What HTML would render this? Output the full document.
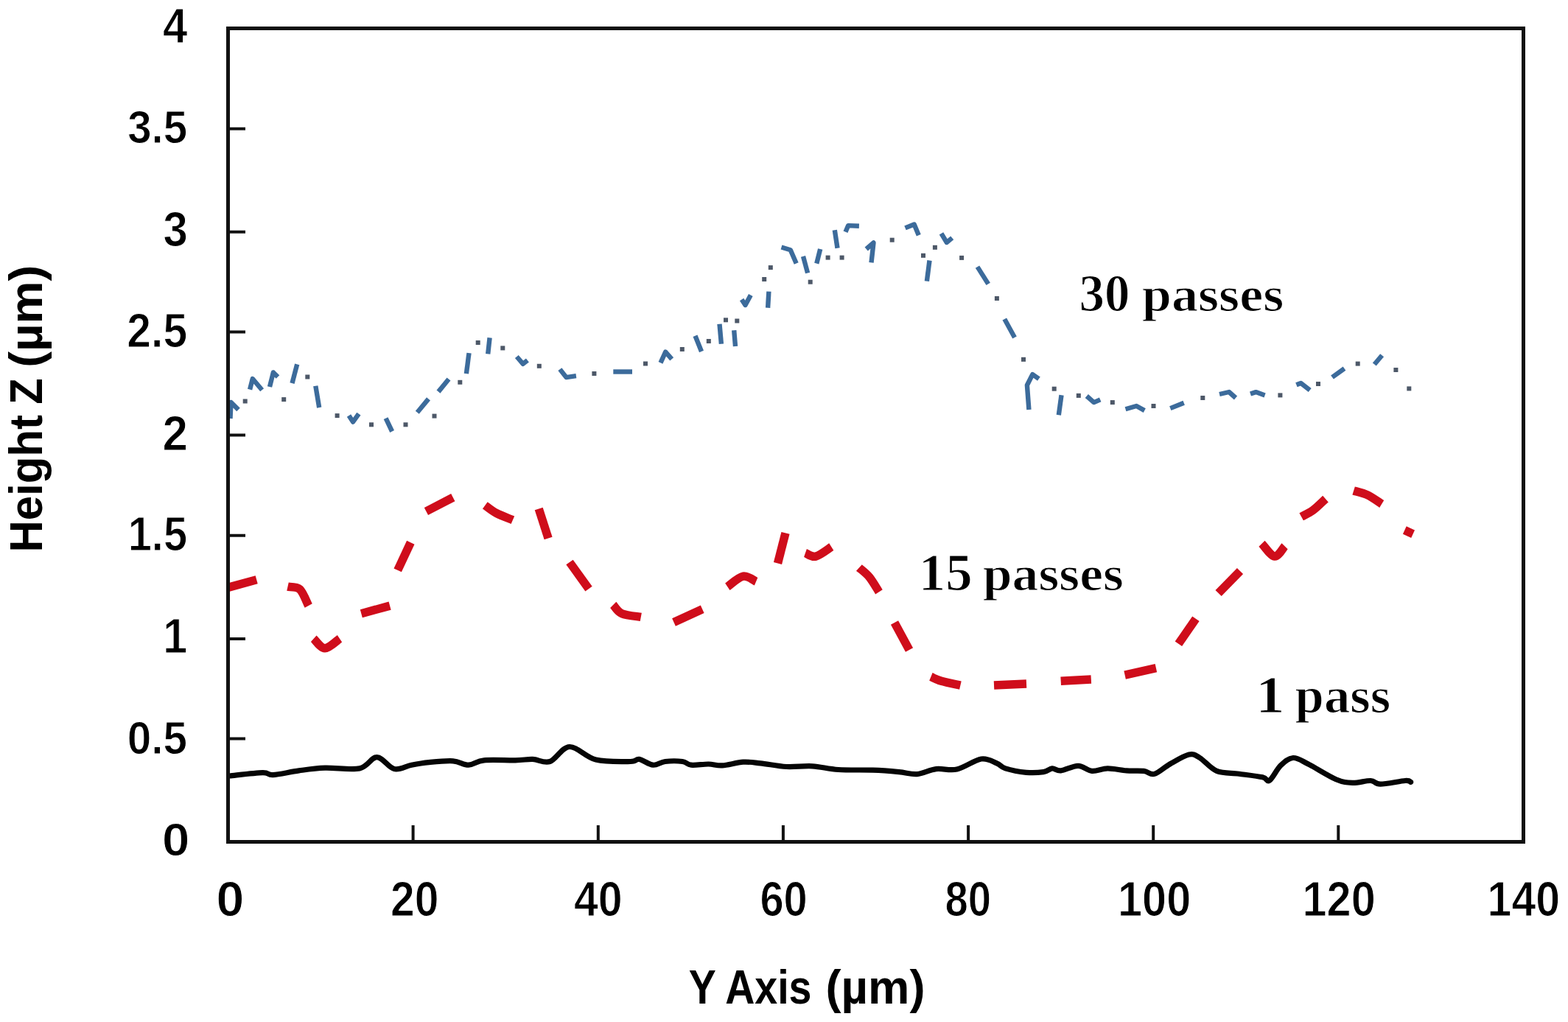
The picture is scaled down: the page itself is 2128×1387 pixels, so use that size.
<!DOCTYPE html><html><head><meta charset="utf-8"><title>Height profile</title><style>html,body{margin:0;padding:0;background:#fff;}svg{display:block;}</style></head><body>
<svg width="2128" height="1387" viewBox="0 0 2128 1387">
<rect width="2128" height="1387" fill="#fff"/>
<g fill="none" stroke-linejoin="round">
<path d="M311.7,1053 C319.1,1052.3 346.6,1048.9 356.4,1048.7 C366.2,1048.5 362.3,1052.1 370.5,1051.6 C378.7,1051.1 393.9,1047.5 405.7,1045.9 C417.4,1044.3 427.3,1042.7 441,1042.2 C454.7,1041.7 476.2,1045.3 488,1042.9 C499.8,1040.5 503.7,1027.5 511.5,1027.6 C519.3,1027.7 527.2,1041.8 535,1043.6 C542.8,1045.4 550.7,1039.7 558.5,1038.2 C566.3,1036.7 572.6,1035.5 582,1034.6 C591.4,1033.7 605.8,1032.2 614.8,1032.8 C623.8,1033.4 629,1038.4 636,1038.2 C643,1038 646.4,1032.9 657,1031.8 C667.6,1030.7 688.4,1032 699.4,1031.8 C710.4,1031.6 715.2,1030.1 723,1030.4 C730.8,1030.7 738.1,1036.3 746.4,1033.5 C754.7,1030.7 762.6,1013.9 773,1013.5 C783.4,1013.1 794.9,1027.8 808.7,1031.1 C822.5,1034.4 845.9,1033.6 855.7,1033.5 C865.5,1033.4 862.4,1029.6 867.5,1030.4 C872.6,1031.2 880.4,1037.7 886.3,1038.2 C892.2,1038.7 896.1,1034.3 902.7,1033.5 C909.4,1032.7 920.3,1032.7 926.2,1033.5 C932.1,1034.3 932.1,1037.6 938,1038.2 C943.9,1038.8 954.5,1036.9 961.5,1037 C968.5,1037.1 972.5,1039.4 980.3,1038.9 C988.1,1038.4 999.9,1034.7 1008.5,1034.2 C1017.1,1033.7 1022.2,1034.8 1032,1035.8 C1041.8,1036.8 1055.5,1039.8 1067.2,1040.5 C1078.9,1041.2 1090.7,1039.1 1102.4,1039.8 C1114.2,1040.5 1124,1043.6 1137.7,1044.5 C1151.4,1045.4 1171,1044.7 1184.7,1045.2 C1198.4,1045.7 1209.9,1046.7 1219.9,1047.6 C1229.9,1048.5 1236.2,1051.3 1244.6,1050.6 C1253,1049.9 1261.5,1044.7 1270.5,1043.6 C1279.5,1042.5 1288.5,1046.3 1298.7,1044 C1308.9,1041.7 1322.6,1031.4 1331.6,1030 C1340.6,1028.6 1347.2,1033.6 1352.7,1035.8 C1358.2,1038 1357.8,1040.8 1364.5,1042.9 C1371.2,1045 1384.1,1047.5 1392.7,1048.3 C1401.3,1049.1 1410.3,1048.5 1416.2,1047.6 C1422.1,1046.7 1424,1043.2 1427.9,1042.9 C1431.8,1042.6 1433.8,1046.5 1439.7,1045.9 C1445.6,1045.3 1456.2,1039.2 1463.2,1039.3 C1470.2,1039.4 1475.3,1045.8 1482,1046.4 C1488.7,1047 1495.3,1043 1503.1,1042.9 C1510.9,1042.8 1520.8,1045.3 1529,1045.9 C1537.2,1046.5 1546.1,1045.7 1552.4,1046.4 C1558.7,1047.2 1560.8,1052 1566.7,1050.4 C1572.6,1048.8 1579.9,1041.4 1587.7,1037 C1595.5,1032.6 1606.9,1025.4 1613.7,1024 C1620.5,1022.6 1622,1024.8 1628.3,1028.5 C1634.6,1032.2 1642.4,1042.8 1651.3,1046.4 C1660.2,1050 1671.2,1048.8 1681.6,1050.2 C1692,1051.6 1706.6,1053.3 1713.5,1054.8 C1720.4,1056.3 1718.8,1061.8 1722.9,1059.2 C1727,1056.6 1732.7,1044 1738,1038.9 C1743.3,1033.8 1748.6,1028.8 1754.9,1028.5 C1761.2,1028.2 1765.9,1032.1 1775.6,1037 C1785.3,1041.9 1803.2,1053.5 1813.2,1057.7 C1823.2,1061.9 1827.9,1062.1 1835.7,1062.4 C1843.5,1062.7 1853.9,1059.2 1860.2,1059.5 C1866.5,1059.8 1865.5,1064.2 1873.3,1064.2 C1881.1,1064.2 1900.2,1060 1907.1,1059.5 C1914,1059 1913.4,1061.1 1914.7,1061.4" stroke="#050505" stroke-width="7.2" stroke-linecap="round"/>
<path d="M309.4,797.4 L348.2,786.8" stroke="#cf0d1b" stroke-width="11.5" stroke-linecap="butt"/>
<path d="M390.5,796.2 C393.2,796.8 402.2,795.5 406.9,799.8 C411.6,804.1 416.7,818.4 418.7,822.1" stroke="#cf0d1b" stroke-width="11.5" stroke-linecap="butt"/>
<path d="M425.7,866.7 C428.2,868.9 435.1,879.7 441,879.7 C446.9,879.7 457.7,868.9 461,866.7" stroke="#cf0d1b" stroke-width="11.5" stroke-linecap="butt"/>
<path d="M490.3,832.7 L529.1,822.1" stroke="#cf0d1b" stroke-width="11.5" stroke-linecap="butt"/>
<path d="M539.7,773.9 L557.3,736.3" stroke="#cf0d1b" stroke-width="11.5" stroke-linecap="butt"/>
<path d="M578.4,694 L614.8,675.2" stroke="#cf0d1b" stroke-width="11.5" stroke-linecap="butt"/>
<path d="M658.3,685.8 C660.8,687.6 667.3,693.1 673.6,696.4 C679.9,699.7 692.2,704.2 695.9,705.8" stroke="#cf0d1b" stroke-width="11.5" stroke-linecap="butt"/>
<path d="M731.2,690.5 L744.1,730.5" stroke="#cf0d1b" stroke-width="11.5" stroke-linecap="butt"/>
<path d="M773,763 L799,799.2" stroke="#cf0d1b" stroke-width="11.5" stroke-linecap="butt"/>
<path d="M832.2,820.9 C834.2,822.9 837.7,830 844,832.7 C850.3,835.5 865.5,836.6 869.8,837.4" stroke="#cf0d1b" stroke-width="11.5" stroke-linecap="butt"/>
<path d="M914.5,844.4 L953.2,826.8" stroke="#cf0d1b" stroke-width="11.5" stroke-linecap="butt"/>
<path d="M987.3,796.2 C990.8,793.9 1002,783.4 1008.5,782.2 C1015,781 1023.2,788 1026.1,789.2" stroke="#cf0d1b" stroke-width="11.5" stroke-linecap="butt"/>
<path d="M1055.5,764.5 L1066,723.4" stroke="#cf0d1b" stroke-width="11.5" stroke-linecap="butt"/>
<path d="M1093,750.4 C1095.3,751.2 1101.2,756.5 1107.1,755.1 C1113,753.7 1124.8,744.4 1128.3,742.2" stroke="#cf0d1b" stroke-width="11.5" stroke-linecap="butt"/>
<path d="M1165.9,770.4 C1168.2,772.5 1175.5,777.8 1180,783.3 C1184.5,788.8 1190.8,800 1192.9,803.3" stroke="#cf0d1b" stroke-width="11.5" stroke-linecap="butt"/>
<path d="M1214,845 L1234,882" stroke="#cf0d1b" stroke-width="11.5" stroke-linecap="butt"/>
<path d="M1263.4,918.4 C1265.8,919.4 1270.8,922.3 1277.5,924.3 C1284.2,926.3 1299.1,929.2 1303.4,930.2" stroke="#cf0d1b" stroke-width="11.5" stroke-linecap="butt"/>
<path d="M1349,930 L1393,928" stroke="#cf0d1b" stroke-width="11.5" stroke-linecap="butt"/>
<path d="M1439.7,924.3 L1480.8,922" stroke="#cf0d1b" stroke-width="11.5" stroke-linecap="butt"/>
<path d="M1526.6,916.1 L1568.9,906.7" stroke="#cf0d1b" stroke-width="11.5" stroke-linecap="butt"/>
<path d="M1599.4,873.8 L1622.9,839.7" stroke="#cf0d1b" stroke-width="11.5" stroke-linecap="butt"/>
<path d="M1653.6,805 L1683,775" stroke="#cf0d1b" stroke-width="11.5" stroke-linecap="butt"/>
<path d="M1712.5,737.7 C1715.4,740.6 1724.6,754.4 1729.8,755 C1735,755.6 1741.3,743.5 1743.6,741.2" stroke="#cf0d1b" stroke-width="11.5" stroke-linecap="butt"/>
<path d="M1766.1,701.3 C1768.7,699.9 1776.2,696.7 1781.7,692.7 C1787.2,688.7 1796.1,679.7 1799,677.1" stroke="#cf0d1b" stroke-width="11.5" stroke-linecap="butt"/>
<path d="M1837.1,665.9 C1840.3,666.9 1849.8,668.9 1856.1,671.9 C1862.4,674.9 1872,682 1875.2,684" stroke="#cf0d1b" stroke-width="11.5" stroke-linecap="butt"/>
<path d="M1906.3,719.5 L1917.6,724.7" stroke="#cf0d1b" stroke-width="11.5" stroke-linecap="butt"/>
<path d="M312.5,568 L313.5,546 L323.5,556" stroke="#3c6b9b" stroke-width="6.4" stroke-linecap="butt"/>
<path d="M339.1,528.6 L342.8,514 L348.9,521.3 L355.6,529.3" stroke="#3c6b9b" stroke-width="6.4" stroke-linecap="butt"/>
<path d="M366,525 L370.9,505.4 L377,511.5" stroke="#3c6b9b" stroke-width="6.4" stroke-linecap="butt"/>
<path d="M396.5,520.1 L403.2,494.4" stroke="#3c6b9b" stroke-width="6.4" stroke-linecap="butt"/>
<path d="M428.3,523.8 L433.2,553.1" stroke="#3c6b9b" stroke-width="6.4" stroke-linecap="butt"/>
<path d="M473.5,564.1 L479,572.6 L486.9,561.6" stroke="#3c6b9b" stroke-width="6.4" stroke-linecap="butt"/>
<path d="M523.6,567.7 L532.1,585.5" stroke="#3c6b9b" stroke-width="6.4" stroke-linecap="butt"/>
<path d="M566.3,559.7 L581.5,541.4" stroke="#3c6b9b" stroke-width="6.4" stroke-linecap="butt"/>
<path d="M595,531.6 L609,514.5" stroke="#3c6b9b" stroke-width="6.4" stroke-linecap="butt"/>
<path d="M632.9,507.2 L636.5,479.1" stroke="#3c6b9b" stroke-width="6.4" stroke-linecap="butt"/>
<path d="M662.2,480.3 L664.6,458.3" stroke="#3c6b9b" stroke-width="6.4" stroke-linecap="butt"/>
<path d="M701.3,484 L709.8,493.8 L715.9,488.9" stroke="#3c6b9b" stroke-width="6.4" stroke-linecap="butt"/>
<path d="M759.9,501.1 L768.5,512.1 L781.9,510.2" stroke="#3c6b9b" stroke-width="6.4" stroke-linecap="butt"/>
<path d="M832.3,504.5 L858,504.5" stroke="#3c6b9b" stroke-width="6.4" stroke-linecap="butt"/>
<path d="M896.5,492.3 L903.2,477.6 L911.7,487.4" stroke="#3c6b9b" stroke-width="6.4" stroke-linecap="butt"/>
<path d="M943.5,455.7 L952,477" stroke="#3c6b9b" stroke-width="6.4" stroke-linecap="butt"/>
<path d="M976.5,439.8 L978.9,466.7" stroke="#3c6b9b" stroke-width="6.4" stroke-linecap="butt"/>
<path d="M996.2,448.3 L998,470" stroke="#3c6b9b" stroke-width="6.4" stroke-linecap="butt"/>
<path d="M1006.6,406.6 L1011.5,414 L1018.8,400.5" stroke="#3c6b9b" stroke-width="6.4" stroke-linecap="butt"/>
<path d="M1043.4,395.6 L1042.1,417.7" stroke="#3c6b9b" stroke-width="6.4" stroke-linecap="butt"/>
<path d="M1060.5,335.5 L1072.8,339.2 L1080.7,357.6" stroke="#3c6b9b" stroke-width="6.4" stroke-linecap="butt"/>
<path d="M1090,347.8 L1096.1,370.5" stroke="#3c6b9b" stroke-width="6.4" stroke-linecap="butt"/>
<path d="M1108.3,357.6 L1113.2,338" stroke="#3c6b9b" stroke-width="6.4" stroke-linecap="butt"/>
<path d="M1132.8,312.3 L1136.5,336.8" stroke="#3c6b9b" stroke-width="6.4" stroke-linecap="butt"/>
<path d="M1147.5,314.7 L1151.2,306.1 L1165.9,306.7" stroke="#3c6b9b" stroke-width="6.4" stroke-linecap="butt"/>
<path d="M1175.7,338 L1185.5,329.4 L1182.5,356.4" stroke="#3c6b9b" stroke-width="6.4" stroke-linecap="butt"/>
<path d="M1228.5,309.4 L1240.7,304.5 L1246.8,319.2" stroke="#3c6b9b" stroke-width="6.4" stroke-linecap="butt"/>
<path d="M1261.5,353.5 L1257.9,381.7" stroke="#3c6b9b" stroke-width="6.4" stroke-linecap="butt"/>
<path d="M1277.5,316.8 L1284.8,329 L1292.2,322.9" stroke="#3c6b9b" stroke-width="6.4" stroke-linecap="butt"/>
<path d="M1326.5,362.1 L1341.2,385.4" stroke="#3c6b9b" stroke-width="6.4" stroke-linecap="butt"/>
<path d="M1363.3,433 L1377,458" stroke="#3c6b9b" stroke-width="6.4" stroke-linecap="butt"/>
<path d="M1396.4,555.9 L1393.9,522.8 L1401.3,508.1 L1409.9,514.2" stroke="#3c6b9b" stroke-width="6.4" stroke-linecap="butt"/>
<path d="M1440.5,536.3 L1436.8,563.2" stroke="#3c6b9b" stroke-width="6.4" stroke-linecap="butt"/>
<path d="M1474.8,537.5 L1484.6,546.1 L1493.2,542.4" stroke="#3c6b9b" stroke-width="6.4" stroke-linecap="butt"/>
<path d="M1527.5,555.3 L1542.3,551 L1553.3,557.1" stroke="#3c6b9b" stroke-width="6.4" stroke-linecap="butt"/>
<path d="M1588.3,554.1 L1606.7,546.7" stroke="#3c6b9b" stroke-width="6.4" stroke-linecap="butt"/>
<path d="M1655,535 L1668,532 L1677,540" stroke="#3c6b9b" stroke-width="6.4" stroke-linecap="butt"/>
<path d="M1697,534.5 L1704.4,532.1 L1716.6,536.4" stroke="#3c6b9b" stroke-width="6.4" stroke-linecap="butt"/>
<path d="M1759.4,522.3 L1765.5,519.9 L1777.7,529.6" stroke="#3c6b9b" stroke-width="6.4" stroke-linecap="butt"/>
<path d="M1808,512 L1824.5,500.2" stroke="#3c6b9b" stroke-width="6.4" stroke-linecap="butt"/>
<path d="M1865.3,494.5 L1875.6,482.3" stroke="#3c6b9b" stroke-width="6.4" stroke-linecap="butt"/>
</g>
<g fill="#4d5868">
<rect x="329.7" y="541.5" width="6" height="6"/>
<rect x="382.2" y="539.1" width="6" height="6"/>
<rect x="414.3" y="508.5" width="6" height="6"/>
<rect x="454.6" y="561.1" width="6" height="6"/>
<rect x="501" y="573.3" width="6" height="6"/>
<rect x="547.5" y="573.3" width="6" height="6"/>
<rect x="586.5" y="561.6" width="6" height="6"/>
<rect x="621.3" y="515.8" width="6" height="6"/>
<rect x="645.7" y="462" width="6" height="6"/>
<rect x="679.3" y="469.4" width="6" height="6"/>
<rect x="728.8" y="493.8" width="6" height="6"/>
<rect x="803.4" y="504" width="6" height="6"/>
<rect x="873" y="490.5" width="6" height="6"/>
<rect x="922.8" y="471" width="6" height="6"/>
<rect x="958.8" y="460" width="6" height="6"/>
<rect x="982" y="431.3" width="6" height="6"/>
<rect x="997.3" y="432.5" width="6" height="6"/>
<rect x="1034.2" y="376" width="6" height="6"/>
<rect x="1042.8" y="360.1" width="6" height="6"/>
<rect x="1096.7" y="379.7" width="6" height="6"/>
<rect x="1120.6" y="346.6" width="6" height="6"/>
<rect x="1139.6" y="346.6" width="6" height="6"/>
<rect x="1207.7" y="322.7" width="6" height="6"/>
<rect x="1250" y="343.8" width="6" height="6"/>
<rect x="1265.9" y="332.8" width="6" height="6"/>
<rect x="1302.1" y="346.9" width="6" height="6"/>
<rect x="1349.9" y="402" width="6" height="6"/>
<rect x="1386" y="484.8" width="6" height="6"/>
<rect x="1427.7" y="524.7" width="6" height="6"/>
<rect x="1460.8" y="533.9" width="6" height="6"/>
<rect x="1506.8" y="543.1" width="6" height="6"/>
<rect x="1562.5" y="548" width="6" height="6"/>
<rect x="1629.3" y="537" width="6" height="6"/>
<rect x="1734.4" y="533.4" width="6" height="6"/>
<rect x="1786" y="518" width="6" height="6"/>
<rect x="1839.7" y="490.6" width="6" height="6"/>
<rect x="1891.4" y="499" width="6" height="6"/>
<rect x="1909.3" y="524.4" width="6" height="6"/>
</g>
<g stroke="#111" fill="none">
<rect x="309.5" y="38.5" width="1758" height="1104" stroke-width="5"/>
<path d="M309.5,1002.6 H333 M309.5,867 H333 M309.5,726.7 H333 M309.5,590.5 H333 M309.5,450.5 H333 M309.5,314.7 H333 M309.5,174.7 H333 M560.6,1142.5 V1120 M811.8,1142.5 V1120 M1062.9,1142.5 V1120 M1314.1,1142.5 V1120 M1565.2,1142.5 V1120 M1816.3,1142.5 V1120" stroke-width="4"/>
</g>
<g font-family="'Liberation Sans', Arial, sans-serif" font-weight="bold" font-size="100" fill="#000">
<text transform="translate(221.10,58.20) scale(0.6007,0.6744)" stroke="#fff" stroke-width="1.57">4</text>
<text transform="translate(173.16,194.20) scale(0.5833,0.6361)" stroke="#fff" stroke-width="1.64">3.5</text>
<text transform="translate(221.42,333.78) scale(0.5996,0.6587)" stroke="#fff" stroke-width="1.59">3</text>
<text transform="translate(172.34,471.45) scale(0.5885,0.6469)" stroke="#fff" stroke-width="1.62">2.5</text>
<text transform="translate(220.53,610.50) scale(0.6195,0.6662)" stroke="#fff" stroke-width="1.56">2</text>
<text transform="translate(173.65,747.25) scale(0.5789,0.6461)" stroke="#fff" stroke-width="1.64">1.5</text>
<text transform="translate(221.16,886.20) scale(0.5935,0.6744)" stroke="#fff" stroke-width="1.58">1</text>
<text transform="translate(172.76,1022.86) scale(0.5855,0.6356)" stroke="#fff" stroke-width="1.64">0.5</text>
<text transform="translate(220.01,1161.36) scale(0.6716,0.6384)" stroke="#fff" stroke-width="1.53">0</text>
<text transform="translate(293.48,1242.84) scale(0.6800,0.6610)" stroke="#fff" stroke-width="1.49">0</text>
<text transform="translate(530.04,1242.84) scale(0.5878,0.6610)" stroke="#fff" stroke-width="1.60">20</text>
<text transform="translate(779.01,1242.84) scale(0.5909,0.6610)" stroke="#fff" stroke-width="1.60">40</text>
<text transform="translate(1031.46,1242.84) scale(0.5783,0.6610)" stroke="#fff" stroke-width="1.62">60</text>
<text transform="translate(1282.50,1242.84) scale(0.5630,0.6610)" stroke="#fff" stroke-width="1.64">80</text>
<text transform="translate(1517.05,1242.84) scale(0.5946,0.6610)" stroke="#fff" stroke-width="1.60">100</text>
<text transform="translate(1767.55,1242.84) scale(0.5946,0.6610)" stroke="#fff" stroke-width="1.60">120</text>
<text transform="translate(2018.58,1242.84) scale(0.5908,0.6610)" stroke="#fff" stroke-width="1.60">140</text>
<text transform="translate(57.30,749.62) rotate(-90) scale(0.5996,0.6221)">Height</text>
<text transform="translate(57.30,548.74) rotate(-90) scale(0.5797,0.6221)">Z</text>
<text transform="translate(57.30,498.76) rotate(-90) scale(0.6529,0.6221)">(µm)</text>
<text transform="translate(934.76,1361.80) scale(0.5554,0.6395)">Y Axis</text>
<text transform="translate(1120.53,1361.80) scale(0.6332,0.6395)">(µm)</text>
</g>
<g font-family="'Liberation Serif', 'Times New Roman', serif" font-weight="bold" font-size="100" fill="#000">
<text transform="translate(1464.58,422.40) scale(0.6883,0.7098)" stroke="#fff" stroke-width="1.72">30</text>
<text transform="translate(1549.76,422.40) scale(0.7221,0.6518)" stroke="#fff" stroke-width="1.75">passes</text>
<text transform="translate(1246.87,800.90) scale(0.7293,0.7152)" stroke="#fff" stroke-width="1.66">15</text>
<text transform="translate(1333.77,800.90) scale(0.7163,0.6518)" stroke="#fff" stroke-width="1.76">passes</text>
<text transform="translate(1704.32,966.70) scale(0.7853,0.7258)" stroke="#fff" stroke-width="1.59">1</text>
<text transform="translate(1757.58,966.70) scale(0.7067,0.6709)" stroke="#fff" stroke-width="1.74">pass</text>
</g>
</svg></body></html>
